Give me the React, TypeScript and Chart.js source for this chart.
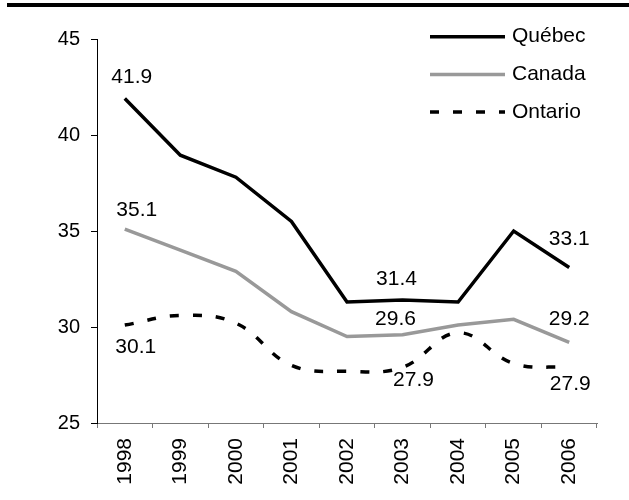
import React, { useEffect, useRef } from "react";
import { Chart, registerables } from "chart.js";

Chart.register(...registerables);

const years = ["1998", "1999", "2000", "2001", "2002", "2003", "2004", "2005", "2006"];
const quebec = [41.9, 38.95, 37.8, 35.5, 31.3, 31.4, 31.3, 35.0, 33.1];
const canada = [35.1, 34.0, 32.9, 30.8, 29.5, 29.6, 30.1, 30.4, 29.2];
const ontario = [30.1, 30.6, 30.2, 28.0, 27.7, 27.9, 29.7, 28.1, 27.9];
const yTicks = [25, 30, 35, 40, 45];
const seriesNames = ["Québec", "Canada", "Ontario"];

const FONT = "'Liberation Sans', Arial, sans-serif";

// label placement (dataset index, point index, pixel offsets)
const valueLabels = [
  { ds: 0, i: 0, dx: 7, dy: -21 },
  { ds: 0, i: 5, dx: -6, dy: -21 },
  { ds: 0, i: 8, dx: 0, dy: -28 },
  { ds: 1, i: 0, dx: 12, dy: -19 },
  { ds: 1, i: 5, dx: -7, dy: -15 },
  { ds: 1, i: 8, dx: 0, dy: -23 },
  { ds: 2, i: 0, dx: 11, dy: 22 },
  { ds: 2, i: 5, dx: 11, dy: 13 },
  { ds: 2, i: 8, dx: 1, dy: 17 },
];

const decorPlugin = {
  id: "decor",
  beforeDraw(chart: any) {
    const ctx = chart.ctx;
    ctx.save();
    ctx.fillStyle = "#fff";
    ctx.fillRect(0, 0, chart.width, chart.height);
    ctx.fillStyle = "#000";
    ctx.fillRect(7, 3, chart.width - 7, 4);
    ctx.restore();
  },
  afterDatasetsDraw(chart: any) {
    const ctx = chart.ctx;
    ctx.save();
    ctx.font = `21px ${FONT}`;
    ctx.fillStyle = "#000";
    ctx.textAlign = "center";
    ctx.textBaseline = "middle";
    valueLabels.forEach((l) => {
      const meta = chart.getDatasetMeta(l.ds);
      const pt = meta.data[l.i];
      const v = chart.data.datasets[l.ds].data[l.i] as number;
      ctx.fillText(v.toFixed(1), pt.x + l.dx, pt.y + l.dy);
    });
    // legend
    const legendY = [36.7, 74.5, 112];
    chart.data.datasets.forEach((ds: any, k: number) => {
      const y = legendY[k];
      ctx.beginPath();
      ctx.strokeStyle = ds.borderColor;
      ctx.lineWidth = 3.5;
      ctx.setLineDash(ds.borderDash || []);
      ctx.moveTo(430, y);
      ctx.lineTo(505, y);
      ctx.stroke();
      ctx.setLineDash([]);
      ctx.textAlign = "left";
      ctx.fillStyle = "#000";
      ctx.fillText(ds.label, 512, y);
    });
    ctx.restore();
  },
};

export default function App() {
  const ref = useRef<HTMLCanvasElement | null>(null);
  useEffect(() => {
    document.body.style.margin = "0";
    const canvas = ref.current!;
    const chart = new Chart(canvas, {
      type: "line",
      data: {
        labels: years,
        datasets: [
          {
            label: seriesNames[0],
            data: quebec,
            borderColor: "#000",
            borderWidth: 3.5,
            pointRadius: 0,
            tension: 0,
          },
          {
            label: seriesNames[1],
            data: canada,
            borderColor: "#999999",
            borderWidth: 3.5,
            pointRadius: 0,
            tension: 0,
          },
          {
            label: seriesNames[2],
            data: ontario,
            borderColor: "#000",
            borderWidth: 3.5,
            borderDash: [9, 14],
            pointRadius: 0,
            tension: 0.4,
          },
        ],
      },
      options: {
        animation: false,
        responsive: false,
        devicePixelRatio: 1,
        layout: { padding: { top: 39, right: 32, left: 0, bottom: 0 } },
        plugins: { legend: { display: false }, tooltip: { enabled: false } },
        scales: {
          x: {
            type: "category",
            offset: true,
            grid: {
              offset: true,
              drawOnChartArea: false,
              drawTicks: true,
              tickLength: 5,
              color: "#777",
            },
            border: { display: true, color: "#777", width: 1 },
            ticks: {
              minRotation: 90,
              maxRotation: 90,
              autoSkip: false,
              color: "#000",
              padding: 10,
              font: { family: FONT, size: 21 },
            },
            afterFit: (s: any) => {
              s.height = 77;
            },
          },
          y: {
            min: 25,
            max: 45,
            afterBuildTicks: (s: any) => {
              s.ticks = yTicks.map((v) => ({ value: v }));
            },
            afterFit: (s: any) => {
              s.width = 97;
            },
            grid: {
              drawOnChartArea: false,
              drawTicks: true,
              tickLength: 6,
              color: "#000",
            },
            border: { display: true, color: "#000", width: 1 },
            ticks: {
              color: "#000",
              padding: 11,
              font: { family: FONT, size: 20 },
            },
          },
        },
      },
      plugins: [decorPlugin],
    });
    return () => chart.destroy();
  }, []);
  return (
    <div style={{ width: 629, height: 500 }}>
      <canvas ref={ref} width={629} height={500} style={{ display: "block" }} />
    </div>
  );
}
